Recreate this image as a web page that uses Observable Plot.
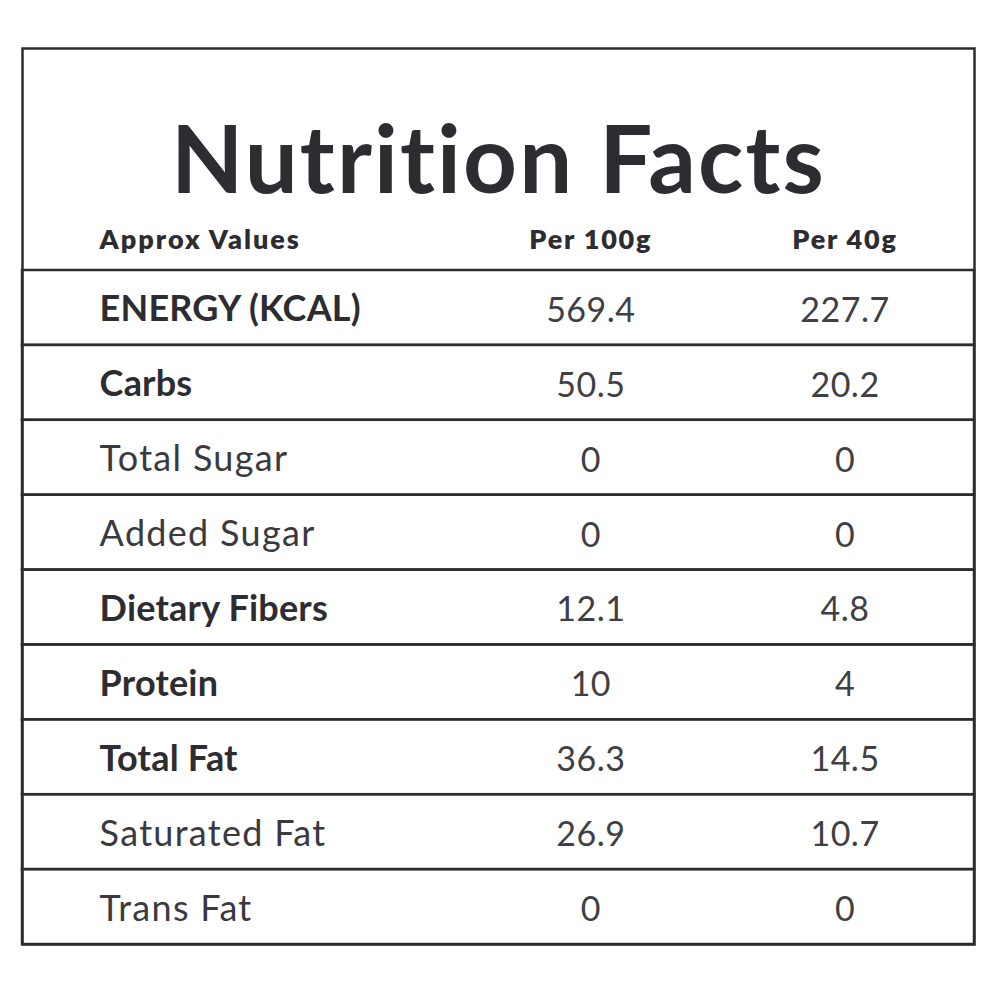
<!DOCTYPE html>
<html>
<head>
<meta charset="utf-8">
<script src="https://cdn.jsdelivr.net/npm/d3@7"></script>
<script src="https://cdn.jsdelivr.net/npm/@observablehq/plot@0.6"></script>
<style>
  html, body { margin: 0; padding: 0; background: #ffffff; }
  #chart svg { display: block; }
  #chart text { font-variant-ligatures: none; }
  #chart g[aria-description="title"] text { letter-spacing: 2.1px; }
  #chart g[aria-description="header-label"] text { letter-spacing: 2px; }
  #chart g[aria-description="header-cols"] text { letter-spacing: 1.8px; }
  #chart g[aria-description="label-bold"] text { letter-spacing: 0.2px; }
  #chart g[aria-description="label-regular"] text { letter-spacing: 1.3px; }
  #chart g[aria-description="values"] text { letter-spacing: 0.5px; }
</style>
</head>
<body>
<div id="chart"></div>
<script>
const title = "Nutrition Facts";
const headerLabel = "Approx Values";
const columns = ["Per 100g", "Per 40g"];
const nutrients = ["ENERGY (KCAL)", "Carbs", "Total Sugar", "Added Sugar", "Dietary Fibers", "Protein", "Total Fat", "Saturated Fat", "Trans Fat"];
const per100g = [569.4, 50.5, 0, 0, 12.1, 10, 36.3, 26.9, 0];
const per40g = [227.7, 20.2, 0, 0, 4.8, 4, 14.5, 10.7, 0];
const isBold = [true, true, false, false, true, true, true, false, false];

const table = nutrients.map((n, i) => ({ name: n, v100: per100g[i], v40: per40g[i], bold: isBold[i] }));

// layout (fractions of the table width)
const colLabel = 0.081, col100 = 0.597, col40 = 0.864;
const ink = "#2c2c31";
const font = "Lato, 'Noto Sans', sans-serif";

const chart = Plot.plot({
  width: 1000,
  height: 1000,
  marginLeft: 22,
  marginRight: 26,
  marginTop: 48,
  marginBottom: 56,
  style: { fontFamily: font, background: "#ffffff" },
  x: { domain: [0, 1], axis: null },
  y: { domain: nutrients, axis: null, padding: 0, insetTop: 222, round: false },
  marks: [
    Plot.barX(table, { y: "name", x1: 0, x2: 1, fill: "none", stroke: ink, strokeWidth: 2.5 }),
    Plot.frame({ stroke: ink, strokeWidth: 2.5 }),
    Plot.text([title], { text: d => d, frameAnchor: "top", lineAnchor: "middle", dy: 114, fontSize: 94, fontWeight: 700, fill: ink, ariaDescription: "title" }),
    Plot.text([headerLabel], { text: d => d, x: colLabel, frameAnchor: "top", lineAnchor: "middle", textAnchor: "start", dy: 192, fontSize: 27, fontWeight: 800, fill: ink, ariaDescription: "header-label" }),
    Plot.text(columns, { text: d => d, x: [col100, col40], frameAnchor: "top", lineAnchor: "middle", dy: 192, fontSize: 27, fontWeight: 800, fill: ink, ariaDescription: "header-cols" }),
    Plot.text(table.filter(d => d.bold), { text: "name", y: "name", x: colLabel, textAnchor: "start", fontSize: 36, fontWeight: 700, fill: ink, dy: 2, ariaDescription: "label-bold" }),
    Plot.text(table.filter(d => !d.bold), { text: "name", y: "name", x: colLabel, textAnchor: "start", fontSize: 36, fontWeight: 400, fill: "#3a3a3e", dy: 2, ariaDescription: "label-regular" }),
    Plot.text(table, { text: "v100", y: "name", x: col100, fontSize: 34, fill: "#404044", dy: 3, ariaDescription: "values" }),
    Plot.text(table, { text: "v40", y: "name", x: col40, fontSize: 34, fill: "#404044", dy: 3, ariaDescription: "values" })
  ]
});
document.getElementById("chart").appendChild(chart);
</script>
</body>
</html>
